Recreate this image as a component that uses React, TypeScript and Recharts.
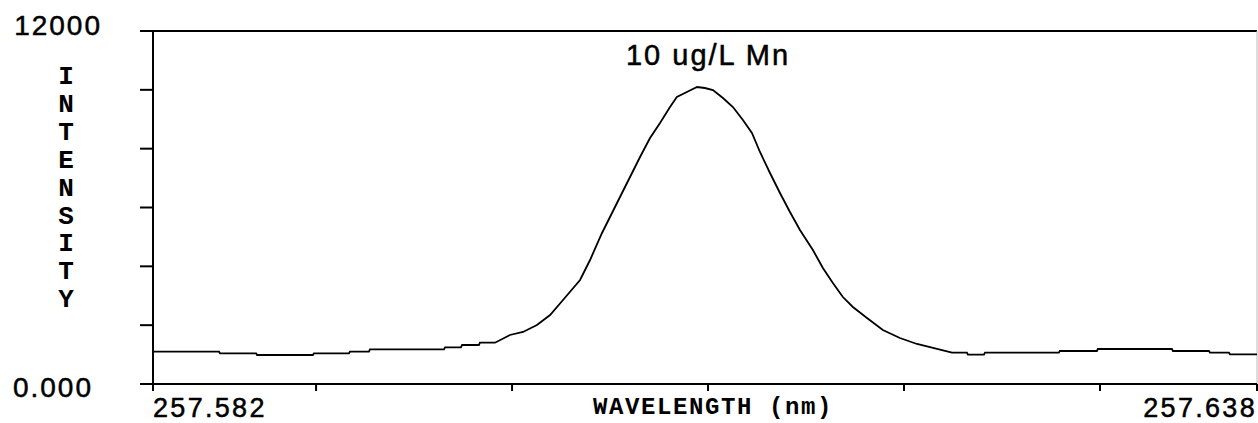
import React from "react";
import { LineChart, Line, XAxis, YAxis, ReferenceLine, Label } from "recharts";

const WAVELENGTHS = [
  257.58168, 257.58505, 257.5851, 257.58694, 257.58699, 257.58984, 257.58989, 257.59168,
  257.59173, 257.5927, 257.59275, 257.59653, 257.59658, 257.59739, 257.59745, 257.59831,
  257.59836, 257.59913, 257.59989, 257.60056, 257.60127, 257.60194, 257.6026, 257.60347,
  257.60398, 257.60459, 257.6051, 257.60561, 257.60602, 257.60653, 257.60704, 257.60755,
  257.60806, 257.60841, 257.60892, 257.60944, 257.60984, 257.61025, 257.61076, 257.61127,
  257.61178, 257.61224, 257.61265, 257.61316, 257.61367, 257.61418, 257.61469, 257.61535,
  257.61586, 257.61637, 257.61688, 257.61739, 257.61811, 257.61892, 257.61979, 257.62066,
  257.62148, 257.62245, 257.62321, 257.62326, 257.62408, 257.62413, 257.6279, 257.62795,
  257.62984, 257.62989, 257.63367, 257.63372, 257.63556, 257.63561, 257.63658, 257.63663,
  257.63801,
];

const INTENSITIES = [
  1098, 1098, 1044, 1044, 986, 986, 1044, 1044,
  1098, 1098, 1180, 1180, 1248, 1248, 1326, 1326,
  1404, 1404, 1666, 1768, 2006, 2346, 2855, 3535,
  4215, 5133, 5813, 6493, 7037, 7717, 8363, 8872,
  9416, 9756, 9926, 10096, 10062, 9994, 9722, 9416,
  8974, 8532, 7887, 7173, 6493, 5847, 5235, 4555,
  3943, 3433, 2957, 2618, 2244, 1836, 1564, 1360,
  1224, 1064, 1064, 996, 996, 1064, 1064, 1122,
  1122, 1190, 1190, 1122, 1122, 1064, 1064, 1010,
  1010,
];

const X_DOMAIN = [257.58168, 257.63801];
const X_TICKS = [257.58168, 257.59, 257.6, 257.61, 257.62, 257.63, 257.63801];
const X_TICK_LABELS = ["257.582", "", "", "", "", "", "257.638"];

const Y_DOMAIN = [0, 12000];
const Y_TICKS = [0, 2000, 4000, 6000, 8000, 10000, 12000];
const Y_TICK_LABELS = ["0.000", "", "", "", "", "", "12000"];

const TITLE = "10 ug/L Mn";
const X_TITLE = "WAVELENGTH (nm)";
const Y_TITLE = "INTENSITY";

const data = WAVELENGTHS.map((w, i) => ({ wl: w, v: INTENSITIES[i] }));

const numFont = "'Liberation Sans', Arial, sans-serif";
const monoFont = "'Liberation Mono', 'DejaVu Sans Mono', monospace";

const XTick = (props: any) => {
  const { x, y, index } = props;
  const label = X_TICK_LABELS[index];
  if (!label) return null;
  const first = index === 0;
  return (
    <text
      x={x}
      y={y + 24}
      textAnchor={first ? "start" : "end"}
      fontFamily={numFont}
      fontSize={27}
      letterSpacing={2.3}
      fill="#000"
      stroke="#000"
      strokeWidth={0.5}
    >
      {label}
    </text>
  );
};

const YTick = (props: any) => {
  const { x, y, index } = props;
  const label = Y_TICK_LABELS[index];
  if (!label) return null;
  const top = index === Y_TICKS.length - 1;
  return (
    <text
      x={top ? x - 36 : x - 45}
      y={top ? y + 4 : y + 13}
      textAnchor="end"
      fontFamily={numFont}
      fontSize={28}
      letterSpacing={2}
      fill="#000"
      stroke="#000"
      strokeWidth={0.5}
    >
      {label}
    </text>
  );
};

const YTitle = () => (
  <text
    x={66}
    y={84}
    textAnchor="middle"
    fontFamily={monoFont}
    fontWeight="bold"
    fontSize={26}
    fill="#000"
  >
    {Y_TITLE.split("").map((c, i) => (
      <tspan key={i} x={66} dy={i === 0 ? 0 : 27.9}>
        {c}
      </tspan>
    ))}
  </text>
);

const XTitle = () => (
  <text
    x={713}
    y={414}
    textAnchor="middle"
    fontFamily={monoFont}
    fontWeight="bold"
    fontSize={24}
    letterSpacing={1.6}
    fill="#000"
  >
    {X_TITLE}
  </text>
);

const ChartTitle = () => (
  <text
    x={708}
    y={65}
    textAnchor="middle"
    fontFamily={numFont}
    fontSize={29}
    letterSpacing={2}
    fill="#000"
    stroke="#000"
    strokeWidth={0.5}
  >
    {TITLE}
  </text>
);

export default function App() {
  return (
    <div style={{ position: "absolute", left: 0, top: 0, background: "#fff" }}>
      <LineChart
        width={1258}
        height={423}
        data={data}
        margin={{ top: 31, right: 1, bottom: 0, left: 0 }}
      >
        <XAxis
          dataKey="wl"
          type="number"
          domain={X_DOMAIN}
          ticks={X_TICKS}
          allowDataOverflow
          height={39}
          tickSize={7}
          tickMargin={2}
          interval={0}
          axisLine={{ stroke: "#000", strokeWidth: 2 }}
          tickLine={{ stroke: "#000", strokeWidth: 2 }}
          tick={<XTick />}
        >
          <Label content={<XTitle />} />
        </XAxis>
        <YAxis
          type="number"
          domain={Y_DOMAIN}
          ticks={Y_TICKS}
          allowDataOverflow
          width={153}
          tickSize={13}
          tickMargin={2}
          interval={0}
          axisLine={{ stroke: "#000", strokeWidth: 2 }}
          tickLine={{ stroke: "#000", strokeWidth: 2 }}
          tick={<YTick />}
        >
          <Label content={<YTitle />} />
        </YAxis>
        <ReferenceLine y={12000} stroke="#000" strokeWidth={2} ifOverflow="visible">
          <Label content={<ChartTitle />} />
        </ReferenceLine>
        <ReferenceLine x={X_DOMAIN[1]} stroke="#bbb" strokeWidth={1} ifOverflow="visible" />
        <Line
          type="linear"
          dataKey="v"
          stroke="#000"
          strokeWidth={1.8}
          dot={false}
          isAnimationActive={false}
        />
      </LineChart>
    </div>
  );
}
